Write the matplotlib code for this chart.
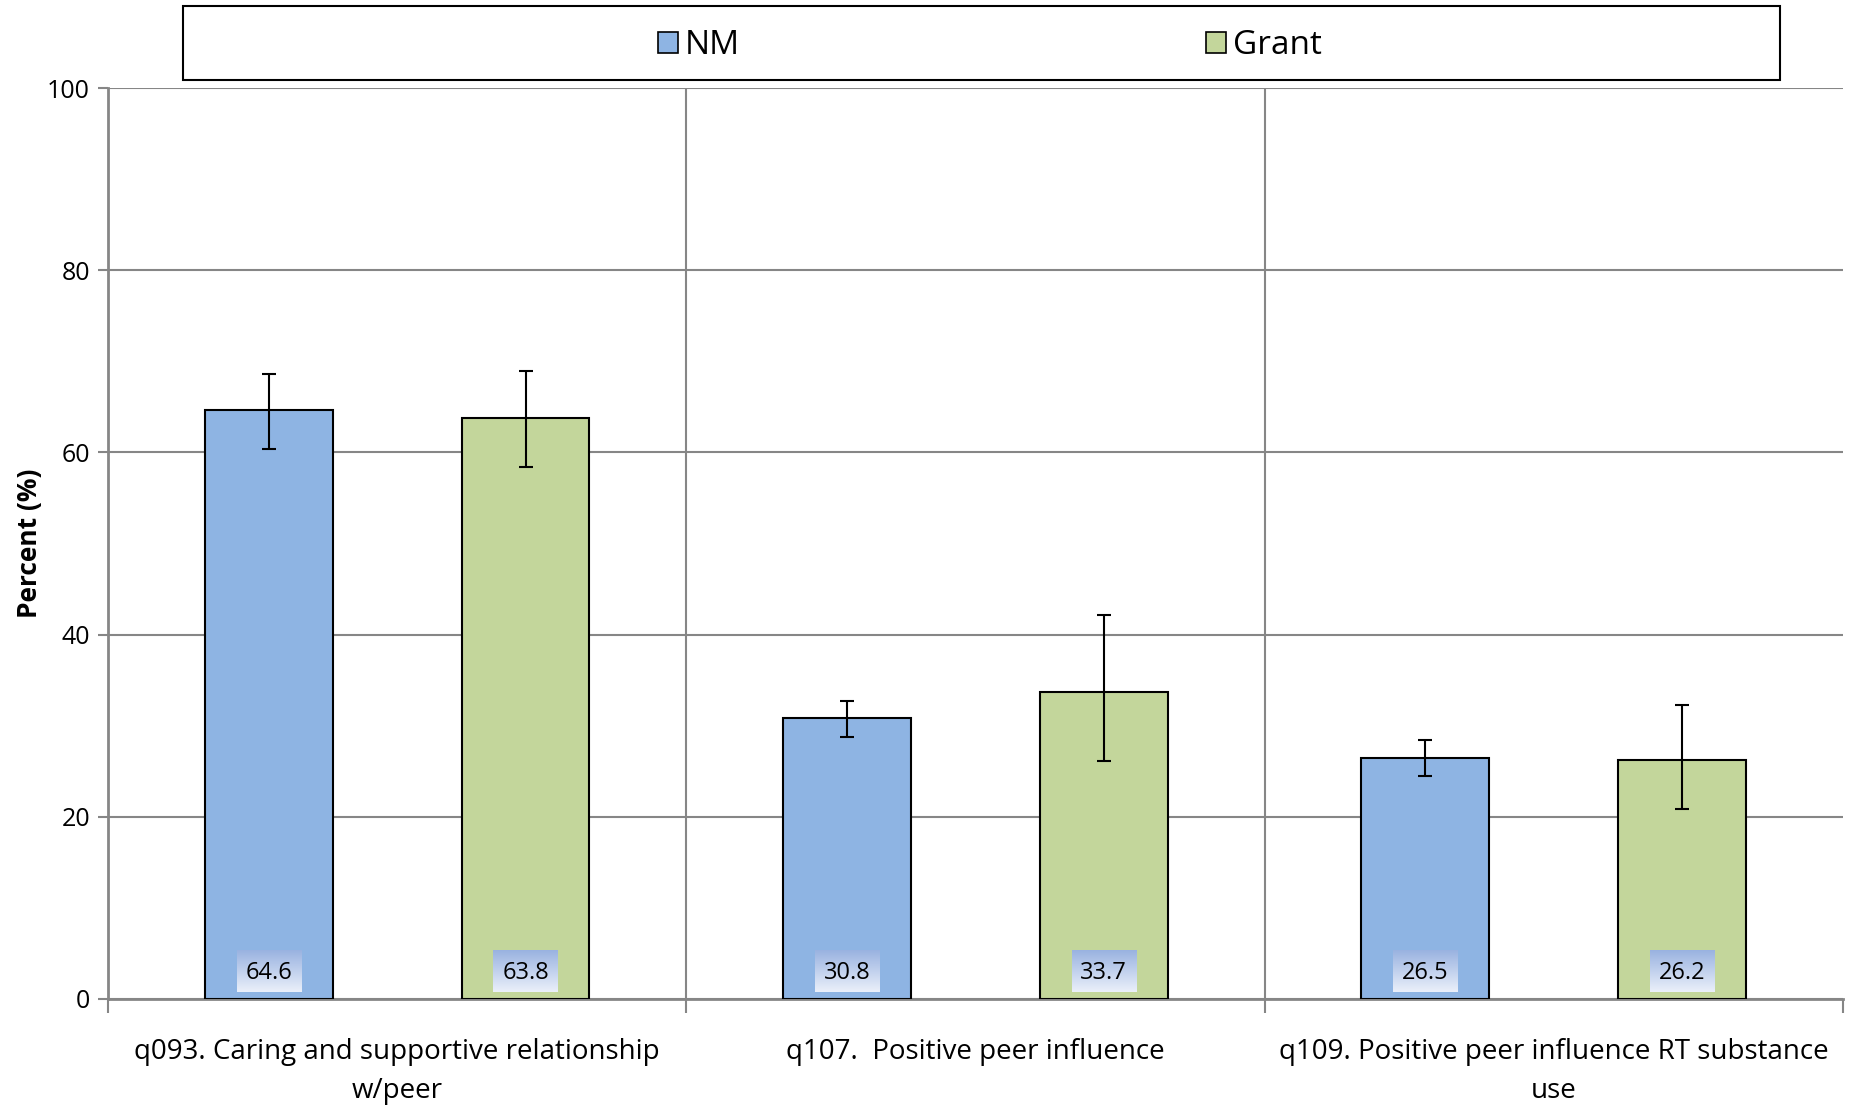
import numpy as np
import matplotlib
matplotlib.use("Agg")
import matplotlib.pyplot as plt
from matplotlib.patches import Rectangle, Patch

plt.rcParams['font.family'] = ['Open Sans', 'DejaVu Sans']

# data
categories = ["q093. Caring and supportive relationship\nw/peer",
              "q107.  Positive peer influence",
              "q109. Positive peer influence RT substance\nuse"]
nm_vals = [64.6, 30.8, 26.5]
nm_lo = [60.4, 28.8, 24.5]
nm_hi = [68.6, 32.7, 28.4]
grant_vals = [63.8, 33.7, 26.2]
grant_lo = [58.4, 26.1, 20.9]
grant_hi = [68.9, 42.2, 32.3]
yticks = [0, 20, 40, 60, 80, 100]

nm_color = "#8EB4E3"
grant_color = "#C3D69B"
grid_color = "#868686"

fig = plt.figure(figsize=(18.55, 11.07), dpi=100)
ax = fig.add_axes([0.0582, 0.0976, 0.9353, 0.8229])

x = np.arange(len(categories))
w = 0.221
off = 0.222

nm_err = [np.array(nm_vals) - np.array(nm_lo), np.array(nm_hi) - np.array(nm_vals)]
gr_err = [np.array(grant_vals) - np.array(grant_lo), np.array(grant_hi) - np.array(grant_vals)]

ax.bar(x - off, nm_vals, w, color=nm_color, edgecolor="black", linewidth=1.5, zorder=3,
       yerr=nm_err, error_kw=dict(ecolor="black", elinewidth=1.5, capsize=5, capthick=1.5, zorder=4))
ax.bar(x + off, grant_vals, w, color=grant_color, edgecolor="black", linewidth=1.5, zorder=3,
       yerr=gr_err, error_kw=dict(ecolor="black", elinewidth=1.5, capsize=5, capthick=1.5, zorder=4))

# value labels in gradient boxes at the bar bottoms
grad = np.linspace(0, 1, 64).reshape(-1, 1)
top_c = np.array([0.60, 0.70, 0.88])
bot_c = np.array([0.92, 0.94, 0.98])
img = top_c * (1 - grad[..., None]) + bot_c * grad[..., None]
img = img.reshape(64, 1, 3)
bw, b0, b1 = 0.111, 0.8, 5.4
for xs, vals in [(x - off, nm_vals), (x + off, grant_vals)]:
    for xi, v in zip(xs, vals):
        ax.imshow(img, extent=[xi - bw / 2, xi + bw / 2, b0, b1], aspect="auto",
                  origin="upper", zorder=5, interpolation="bilinear")
        ax.text(xi, (b0 + b1) / 2 - 0.2, f"{v:.1f}", ha="center", va="center",
                fontsize=17, zorder=6)

ax.set_xlim(-0.5, 2.5)
ax.set_ylim(0, 100)
ax.set_yticks(yticks)
ax.tick_params(axis="y", labelsize=18, length=7, color=grid_color, width=1.5, pad=6)
ax.yaxis.grid(True, color=grid_color, linewidth=1.5, zorder=0)
for xv in [0.5, 1.5]:
    ax.axvline(xv, color=grid_color, linewidth=1.5, zorder=0)

ax.set_xticks([-0.5, 0.5, 1.5, 2.5])
ax.set_xticklabels([])
ax.tick_params(axis="x", which="major", length=10, color=grid_color, width=1.5)
ax.set_xticks(x, minor=True)
ax.set_xticklabels(categories, minor=True, fontsize=20, linespacing=1.52)
ax.tick_params(axis="x", which="minor", length=0, pad=28)

for s in ["top", "right"]:
    ax.spines[s].set_visible(False)
for s in ["left", "bottom"]:
    ax.spines[s].set_color(grid_color)
    ax.spines[s].set_linewidth(2)

ax.set_ylabel("Percent (%)", fontsize=19, fontweight="bold", labelpad=3)

# legend with a box spanning the top
fig.patches.append(Rectangle((183 / 1855, 1 - 80 / 1107), (1780 - 183) / 1855, 74 / 1107,
                             transform=fig.transFigure, facecolor="white",
                             edgecolor="black", linewidth=1.5))
handles = [Patch(facecolor=nm_color, edgecolor="black", linewidth=1.2, label="NM"),
           Patch(facecolor=grant_color, edgecolor="black", linewidth=1.2, label="Grant")]
fig.legend(handles=handles, loc="center", bbox_to_anchor=(990 / 1855, 1 - 46 / 1107),
           ncol=2, frameon=False, fontsize=24, handlelength=0.6, handleheight=0.6,
           handletextpad=0.2, columnspacing=14.0)

fig.savefig("out.png", dpi=100)
